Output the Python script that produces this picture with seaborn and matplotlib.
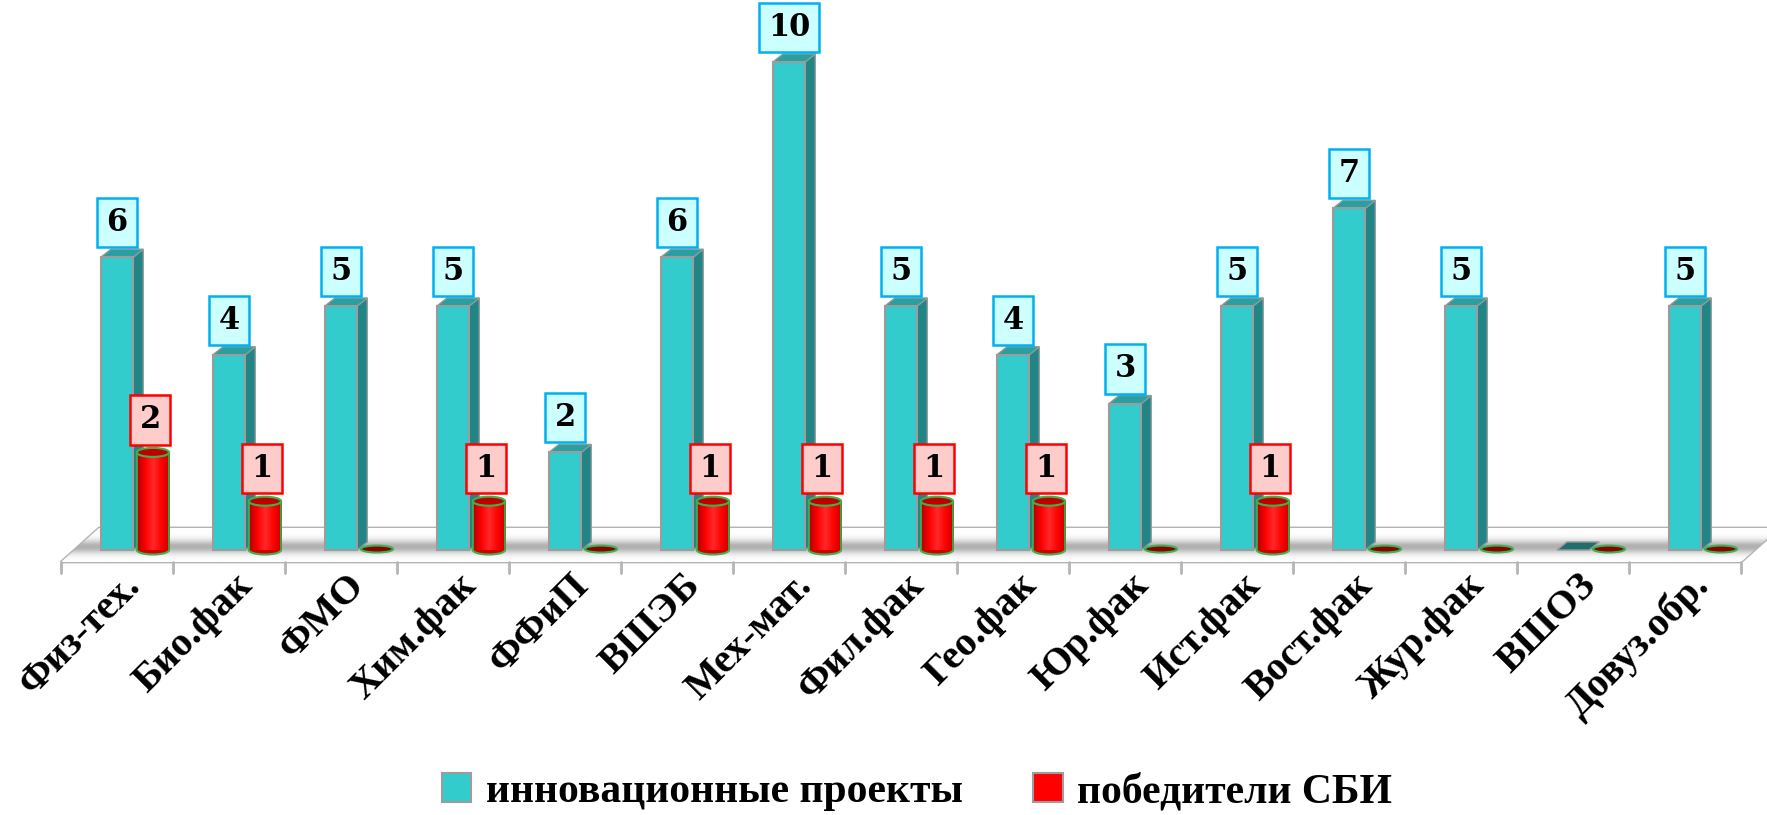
import numpy as np
import pandas as pd
import matplotlib
matplotlib.use("Agg")
import matplotlib.pyplot as plt
import seaborn as sns
from matplotlib.patches import Polygon, Ellipse, Patch

# data
faculties = ['Физ-тех.', 'Био.фак', 'ФМО', 'Хим.фак', 'ФФиП', 'ВШЭБ', 'Мех-мат.',
             'Фил.фак', 'Гео.фак', 'Юр.фак', 'Ист.фак', 'Вост.фак', 'Жур.фак',
             'ВШОЗ', 'Довуз.обр.']
projects = [6, 4, 5, 5, 2, 6, 10, 5, 4, 3, 5, 7, 5, 0, 5]
winners = [2, 1, 0, 1, 0, 1, 1, 1, 1, 0, 1, 0, 0, 0, 0]
series_names = ['инновационные проекты', 'победители СБИ']

teal = '#33cccc'
teal_side = '#218585'
teal_top = '#2a9f9f'
red = '#ff0000'

df = pd.DataFrame({
    'faculty': faculties * 2,
    'value': projects + winners,
    'series': [series_names[0]] * len(faculties) + [series_names[1]] * len(faculties),
})

sns.set_theme(style='white')
plt.rcParams['font.family'] = ['Liberation Serif', 'DejaVu Serif']
plt.rcParams['text.color'] = 'black'

fig = plt.figure(figsize=(17.67, 8.15), dpi=100)
W, H = 1767, 815
# pixel mapping: x_px = 135 + 112*x ; y_px = 550 - 48.8*v
Y0, SY = 550, 48.8
ax = fig.add_axes([0, 1 - 600 / H, 1, 600 / H])

sns.barplot(data=df, x='faculty', y='value', hue='series', palette=[teal, red],
            width=0.64, gap=0.1, dodge=True, saturation=1, legend=False, ax=ax)
ax.set_xlim((0 - 135) / 112, (W - 135) / 112)
ax.set_ylim((Y0 - 600) / SY, Y0 / SY)
ax.axis('off')

dx, dy = 10 / 112, 8 / SY
n = len(faculties)

# floor
f_front = -12 / SY
f_back = 22 / SY
x_left, x_right = -0.66, -0.66 + n
bx = 38 / 112
floor = Polygon([(x_left, f_front), (x_right, f_front), (x_right + bx, f_back),
                 (x_left + bx, f_back)], closed=True, facecolor='white',
                edgecolor='#b4b4b4', lw=2, zorder=0.5)
ax.add_patch(floor)
grad = np.exp(-((np.linspace(-1, 1, 100) + 0.1) / 0.4) ** 2)[::-1, None] * np.ones((1, 10))
img = ax.imshow(grad, extent=[x_left, x_right + bx, f_front, f_back], aspect='auto',
                cmap=matplotlib.colors.LinearSegmentedColormap.from_list('sh', ['#ffffff', '#b0b0b0']),
                vmin=0, vmax=1, zorder=0.6, origin='upper')
img.set_clip_path(floor)
for k in range(n + 1):
    ax.plot([x_left + k, x_left + k], [f_front, f_front - 11 / SY], color='#b4b4b4', lw=2,
            zorder=0.7, clip_on=False)

teal_bars = ax.containers[0]
red_bars = ax.containers[1]

label_box = dict(fontsize=22, fontweight='bold', family=['DejaVu Serif'], color='black',
                 zorder=6, ha='center', va='bottom', textcoords='offset points')

for rect in teal_bars.patches:
    x0 = rect.get_x()
    w = rect.get_width()
    h = rect.get_height()
    x1 = x0 + w
    rect.set_zorder(3)
    if h == 0:
        rect.set_visible(False)
        ax.add_patch(Polygon([(x0, 0), (x0 + dx, dy), (x1 + dx, dy), (x1, 0)],
                             facecolor='#1e6e6e', edgecolor='#9a9a9a', lw=1, zorder=3))
        continue
    rect.set_edgecolor('#9c9c9c')
    rect.set_linewidth(1.5)
    ax.add_patch(Polygon([(x1, 0), (x1 + dx, dy), (x1 + dx, h + dy), (x1, h)],
                         facecolor=teal_side, edgecolor='#8a9a9a', lw=1, zorder=2.9))
    ax.add_patch(Polygon([(x0, h), (x0 + dx, h + dy), (x1 + dx, h + dy), (x1, h)],
                         facecolor=teal_top, edgecolor='#8a9a9a', lw=1, zorder=2.9))
    ax.annotate(str(int(h)), (x0 + w / 2, h + dy), xytext=(0, 8),
                bbox=dict(boxstyle='square,pad=0.3', facecolor='#ccffff',
                          edgecolor='#00b0f0', lw=1.8), **label_box)

cyl_cmap = matplotlib.colors.LinearSegmentedColormap.from_list(
    'cyl', ['#b00000', '#ff0000', '#ff2a2a', '#ff0000', '#c00000'])
eh = 9 / SY
for rect in red_bars.patches:
    x0 = rect.get_x()
    w = rect.get_width()
    h = rect.get_height()
    xc = x0 + w / 2
    if h == 0:
        rect.set_visible(False)
        ax.add_patch(Ellipse((xc, 0.02), w, 7 / SY, facecolor='#8b0000',
                             edgecolor='#3cb44b', lw=1.5, zorder=4))
        continue
    rect.set_edgecolor('none')
    rect.set_zorder(4)
    ax.add_patch(Ellipse((xc, 0), w, eh, facecolor='#d00000', edgecolor='#3cb44b',
                         lw=1.5, zorder=3.9))
    g = ax.imshow(np.linspace(0, 1, 50)[None, :], extent=[x0, x0 + w, 0, h], aspect='auto',
                  cmap=cyl_cmap, zorder=4.1)
    g.set_clip_path(rect)
    ax.plot([x0, x0], [0, h], color='#3cb44b', lw=1.2, zorder=4.2)
    ax.plot([x0 + w, x0 + w], [0, h], color='#3cb44b', lw=1.2, zorder=4.2)
    ax.add_patch(Ellipse((xc, h), w, eh, facecolor='#c00000', edgecolor='#3cb44b',
                         lw=1.5, zorder=4.3))
    ax.annotate(str(int(h)), (xc, h + eh / 2), xytext=(-2, 9),
                bbox=dict(boxstyle='square,pad=0.3', facecolor='#ffcccc',
                          edgecolor='#ff0000', lw=1.8), **label_box)

# category labels
for i, name in enumerate(faculties):
    ax.text(i + 0.0, (Y0 - 580) / SY, name, rotation=45, rotation_mode='anchor',
            ha='right', va='center', fontsize=29, fontweight='bold', color='black',
            clip_on=False)

handles = [Patch(facecolor=teal, edgecolor='#9c9c9c', lw=1.5),
           Patch(facecolor=red, edgecolor='#9c9c9c', lw=1.5)]
fig.legend(handles, series_names, loc='center', bbox_to_anchor=(917 / W, 1 - 792 / H),
           ncol=2, frameon=False, prop={'size': 30, 'weight': 'bold'}, labelcolor='black',
           handlelength=0.7, handleheight=0.7, handletextpad=0.35, columnspacing=1.7)

fig.savefig('out.png', dpi=100)
